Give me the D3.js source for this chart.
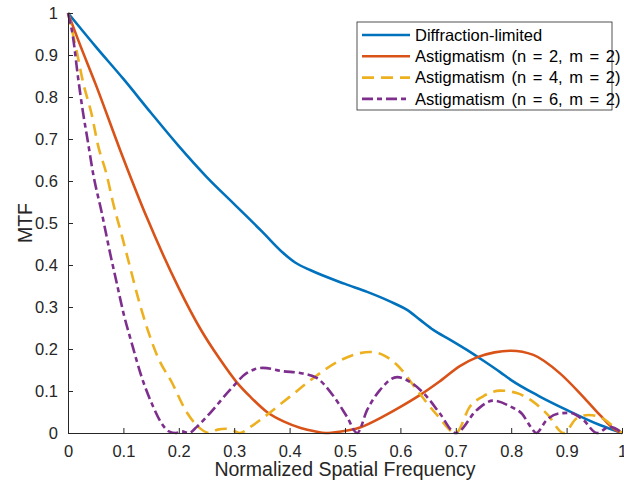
<!DOCTYPE html>
<html>
<head>
<meta charset="utf-8">
<script src="https://cdn.jsdelivr.net/npm/d3@7"></script>
<style>
  body { margin: 0; background: #fff; }
  svg { display: block; font-family: "Liberation Sans", Arial, sans-serif; }
</style>
</head>
<body>
<div id="chart"></div>
<script>
// Data: [normalized frequency, MTF]
const diffraction = [[0,1],[0.05,0.92],[0.1,0.843],[0.15,0.762],[0.2,0.683],[0.25,0.61],[0.3,0.545],[0.35,0.48],
  [0.388,0.429],[0.41,0.406],[0.437,0.388],[0.5,0.355],[0.54,0.336],[0.58,0.314],[0.612,0.293],[0.635,0.27],
  [0.66,0.245],[0.69,0.222],[0.72,0.198],[0.75,0.172],[0.78,0.145],[0.8,0.126],[0.85,0.088],[0.9,0.055],
  [0.96,0.019],[1,0]];
const astig22 = [[0,1],[0.02,0.93],[0.05,0.83],[0.094,0.674],[0.142,0.514],[0.2,0.345],[0.238,0.25],[0.274,0.176],
  [0.305,0.12],[0.33,0.085],[0.359,0.05],[0.39,0.027],[0.42,0.012],[0.445,0.004],[0.465,0],[0.49,0.003],
  [0.527,0.013],[0.57,0.04],[0.6,0.062],[0.635,0.09],[0.67,0.122],[0.708,0.16],[0.738,0.18],[0.77,0.192],
  [0.8,0.196],[0.84,0.186],[0.888,0.142],[0.93,0.086],[0.96,0.043],[0.987,0.008],[1,0]];
const astig42 = [[0,1],[0.016,0.907],[0.027,0.836],[0.043,0.757],[0.054,0.686],[0.07,0.614],[0.081,0.55],
  [0.097,0.471],[0.112,0.395],[0.126,0.324],[0.144,0.245],[0.162,0.181],[0.188,0.119],[0.214,0.05],[0.235,0.015],
  [0.255,0],[0.27,0.008],[0.285,0.01],[0.3,0.005],[0.31,0],[0.33,0.015],[0.352,0.036],[0.4,0.086],[0.442,0.13],
  [0.49,0.172],[0.52,0.188],[0.545,0.193],[0.57,0.185],[0.594,0.162],[0.63,0.102],[0.666,0.043],[0.7,0],
  [0.725,0.062],[0.75,0.088],[0.78,0.101],[0.81,0.095],[0.84,0.074],[0.865,0.045],[0.895,0],[0.918,0.035],
  [0.94,0.043],[0.965,0.035],[0.985,0.015],[1,0]];
const astig62 = [[0,1],[0.009,0.943],[0.018,0.848],[0.027,0.764],[0.036,0.693],[0.045,0.62],[0.061,0.524],
  [0.076,0.428],[0.088,0.357],[0.1,0.286],[0.115,0.214],[0.133,0.133],[0.154,0.062],[0.168,0.025],[0.182,0.004],
  [0.195,0],[0.205,0.004],[0.218,0],[0.232,0.014],[0.256,0.047],[0.292,0.102],[0.323,0.143],[0.352,0.155],
  [0.388,0.147],[0.419,0.143],[0.449,0.131],[0.478,0.09],[0.503,0.04],[0.522,0],[0.54,0.055],[0.563,0.102],
  [0.594,0.133],[0.617,0.122],[0.648,0.086],[0.671,0.047],[0.7,0],[0.738,0.055],[0.767,0.077],[0.8,0.062],
  [0.82,0.045],[0.835,0.015],[0.845,0],[0.864,0.031],[0.888,0.047],[0.906,0.048],[0.93,0.031],[0.955,0],
  [0.978,0.015],[1,0]];

const seriesNames = ["Diffraction-limited", "Astigmatism (n = 2, m = 2)", "Astigmatism (n = 4, m = 2)", "Astigmatism (n = 6, m = 2)"];
const xTicks = [0,0.1,0.2,0.3,0.4,0.5,0.6,0.7,0.8,0.9,1];
const yTicks = [0,0.1,0.2,0.3,0.4,0.5,0.6,0.7,0.8,0.9,1];

const width = 624, height = 491;
const margin = {top: 13, right: 2, bottom: 58, left: 68};

const series = [
  {name: seriesNames[0], values: diffraction, color: "#0072BD", dash: null},
  {name: seriesNames[1], values: astig22, color: "#D95319", dash: null},
  {name: seriesNames[2], values: astig42, color: "#EDB120", dash: "12,7"},
  {name: seriesNames[3], values: astig62, color: "#7E2F8E", dash: "11,4,5,4"}
];

const x = d3.scaleLinear().domain([0, 1]).range([margin.left, width - margin.right]);
const y = d3.scaleLinear().domain([0, 1]).range([height - margin.bottom, margin.top]);

const svg = d3.select("#chart").append("svg")
  .attr("width", width)
  .attr("height", height);

// lines
const line = d3.line()
  .x(d => x(d[0]))
  .y(d => y(d[1]))
  .curve(d3.curveMonotoneX);

svg.append("g")
  .selectAll("path")
  .data(series)
  .join("path")
  .attr("fill", "none")
  .attr("stroke", d => d.color)
  .attr("stroke-width", 2.6)
  .attr("stroke-dasharray", d => d.dash)
  .attr("d", d => line(d.values));

// axes (ticks inward like MATLAB)
const xAxis = svg.append("g")
  .attr("transform", `translate(0,${y(0)})`)
  .call(d3.axisBottom(x).tickValues(xTicks).tickSize(-5).tickPadding(12).tickFormat(d3.format("~g")));
const yAxis = svg.append("g")
  .attr("transform", `translate(${x(0)},0)`)
  .call(d3.axisLeft(y).tickValues(yTicks).tickSize(-5).tickPadding(10).tickFormat(d3.format("~g")));

[xAxis, yAxis].forEach(a => {
  a.select(".domain").attr("stroke", "#262626").attr("stroke-width", 1);
  a.selectAll(".tick line").attr("stroke", "#262626");
  a.selectAll(".tick text").attr("fill", "#262626").attr("font-size", 16.5);
  a.attr("font-family", null);
});

// axis labels
svg.append("text")
  .attr("x", (x(0) + x(1)) / 2)
  .attr("y", 476)
  .attr("text-anchor", "middle")
  .attr("font-size", 19.5)
  .attr("fill", "#262626")
  .text("Normalized Spatial Frequency");

svg.append("text")
  .attr("transform", `translate(32,${(y(0) + y(1)) / 2}) rotate(-90)`)
  .attr("text-anchor", "middle")
  .attr("font-size", 19.5)
  .attr("fill", "#262626")
  .text("MTF");

// legend
const legend = svg.append("g").attr("transform", "translate(357,22)");
legend.append("rect")
  .attr("width", 255)
  .attr("height", 88)
  .attr("fill", "#fff")
  .attr("stroke", "#262626")
  .attr("stroke-width", 0.8);

const item = legend.selectAll("g.item")
  .data(series)
  .join("g")
  .attr("class", "item")
  .attr("transform", (d, i) => `translate(0,${13 + i * 21.3})`);

item.append("line")
  .attr("x1", 5).attr("x2", 53)
  .attr("stroke", d => d.color)
  .attr("stroke-width", 2.6)
  .attr("stroke-dasharray", d => d.dash);

item.append("text")
  .attr("x", 58)
  .attr("dy", "0.35em")
  .attr("font-size", 16.5)
  .attr("word-spacing", 2)
  .attr("fill", "#000")
  .text(d => d.name);
</script>
</body>
</html>
